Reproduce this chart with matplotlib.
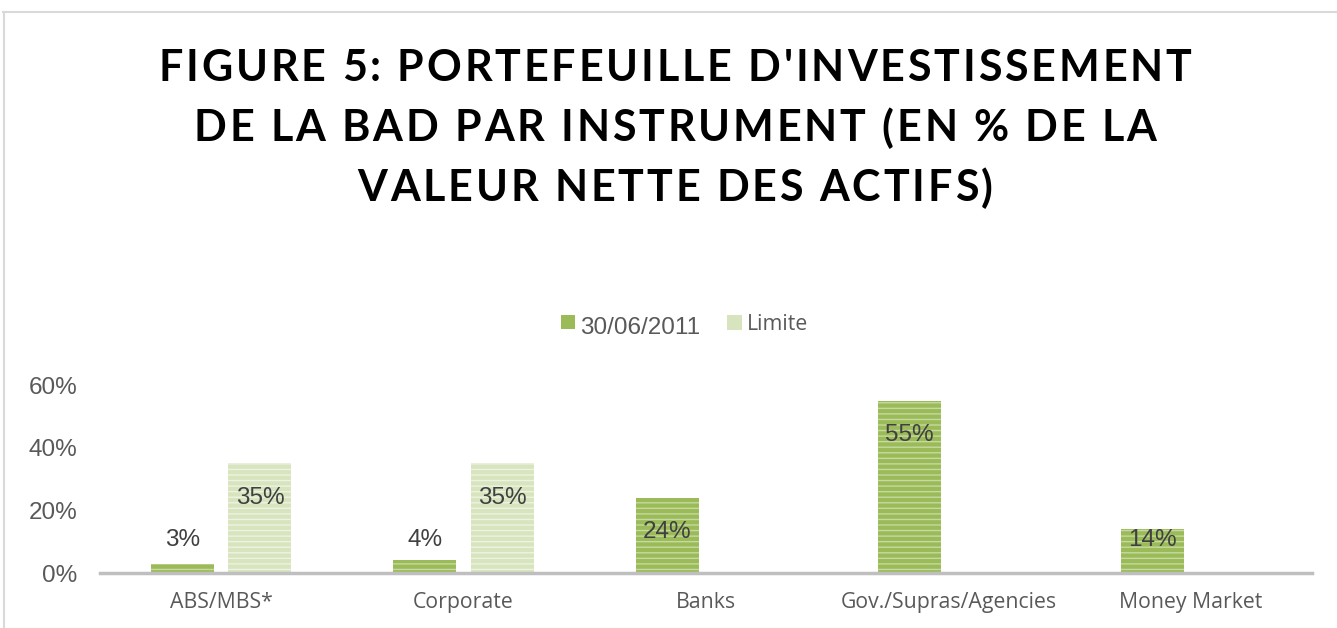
import numpy as np
import matplotlib
matplotlib.use("Agg")
import matplotlib.pyplot as plt
from matplotlib.patches import Rectangle
from matplotlib.lines import Line2D
from matplotlib.font_manager import FontProperties

categories = ["ABS/MBS*", "Corporate", "Banks", "Gov./Supras/Agencies", "Money Market"]
actual = [3, 4, 24, 55, 14]
limite = [35, 35, np.nan, np.nan, np.nan]
series_names = ["30/06/2011", "Limite"]
yticks = [0, 20, 40, 60]
title_lines = ["FIGURE 5: PORTEFEUILLE D'INVESTISSEMENT",
               "DE LA BAD PAR INSTRUMENT (EN % DE LA",
               "VALEUR NETTE DES ACTIFS)"]

W, H = 1337, 628
fig = plt.figure(figsize=(W / 100, H / 100), dpi=100)
fig.patch.set_facecolor("white")

# outer chart border (top and left visible)
fig.add_artist(Line2D([3 / W, 1.0], [1 - 12 / H, 1 - 12 / H], color="#d9d9d9", lw=1.5))
fig.add_artist(Line2D([4 / W, 4 / W], [0, 1 - 12 / H], color="#d9d9d9", lw=1.5))

# axes: x from 100 to 1312 px, 0% at y=573, 60% at y=385
ax_left, ax_right = 100, 1312
y0, y60 = 573, 385
ax_top_px = y60 - 10
ax = fig.add_axes([ax_left / W, 1 - y0 / H,
                   (ax_right - ax_left) / W, (y0 - ax_top_px) / H])
ax.set_xlim(-0.5, len(categories) - 0.5)
ax.set_ylim(0, 60 * (y0 - ax_top_px) / (y0 - y60))

x = np.arange(len(categories))
w = 0.26
off = 0.16
dark = "#9bbb59"
light = "#d7e4bd"

plt.rcParams["hatch.linewidth"] = 1.0
ax.bar(x - off, actual, w, color=dark, edgecolor="#c6d9a0", hatch="---", linewidth=0, zorder=2)
ax.bar(x + off, limite, w, color=light, edgecolor="#edf3e2", hatch="---", linewidth=0, zorder=2)

# value labels (Excel style: inside end, clamped near the base)
for xs, vals in [(x - off, actual), (x + off, limite)]:
    for xi, v in zip(xs, vals):
        if np.isnan(v):
            continue
        ly = max(v - 11, 10.6)
        ax.text(xi, ly, f"{v:.0f}%", ha="center", va="center",
                fontsize=17.5, color="#404040", family="Liberation Sans", zorder=3)

ax.set_yticks(yticks)
ax.set_yticklabels([f"{t}%" for t in yticks], family="Liberation Sans", fontsize=17.5, color="#595959")
ax.set_xticks(x)
ax.set_xticklabels(categories, family="Open Sans", fontsize=15.3, color="#595959")
ax.tick_params(axis="both", length=0)
ax.tick_params(axis="y", pad=16.5)
ax.tick_params(axis="x", pad=14)
for s in ["top", "right", "left"]:
    ax.spines[s].set_visible(False)
ax.spines["bottom"].set_color("#bfbfbf")
ax.spines["bottom"].set_linewidth(2.5)
ax.set_facecolor("none")

# legend
fig.add_artist(Rectangle((561 / W, 1 - 329 / H), 14 / W, 14 / H, transform=fig.transFigure,
                         facecolor=dark, edgecolor="none"))
fig.text(580 / W, 1 - 328 / H, series_names[0], family="Liberation Sans", fontsize=17.5,
         color="#595959", va="center", ha="left")
fig.add_artist(Rectangle((727 / W, 1 - 330 / H), 15 / W, 15 / H, transform=fig.transFigure,
                         facecolor=light, edgecolor="none"))
fig.text(747 / W, 1 - 324 / H, series_names[1], family="Open Sans", fontsize=15.3,
         color="#595959", va="center", ha="left")

# title with letter spacing
renderer = fig.canvas.get_renderer()
fp = FontProperties(family="Lato", weight="bold", size=31)


def char_widths(line):
    out = []
    for ch in line:
        if ch == " ":
            wch = renderer.get_text_width_height_descent("a a", fp, ismath=False)[0] - \
                  renderer.get_text_width_height_descent("aa", fp, ismath=False)[0]
        else:
            wch = renderer.get_text_width_height_descent(ch, fp, ismath=False)[0]
        out.append(wch)
    return out


first = char_widths(title_lines[0])
tracking = (1033 - sum(first)) / (len(title_lines[0]) - 1)
line_y = [68, 128, 188]
for line, yy in zip(title_lines, line_y):
    widths = char_widths(line)
    total = sum(widths) + tracking * (len(line) - 1)
    xs = 675 - total / 2
    for ch, wch in zip(line, widths):
        if ch != " ":
            fig.text(xs / W, 1 - yy / H, ch, fontproperties=fp, color="black",
                     ha="left", va="center")
        xs += wch + tracking

fig.savefig("out.png", dpi=100)
